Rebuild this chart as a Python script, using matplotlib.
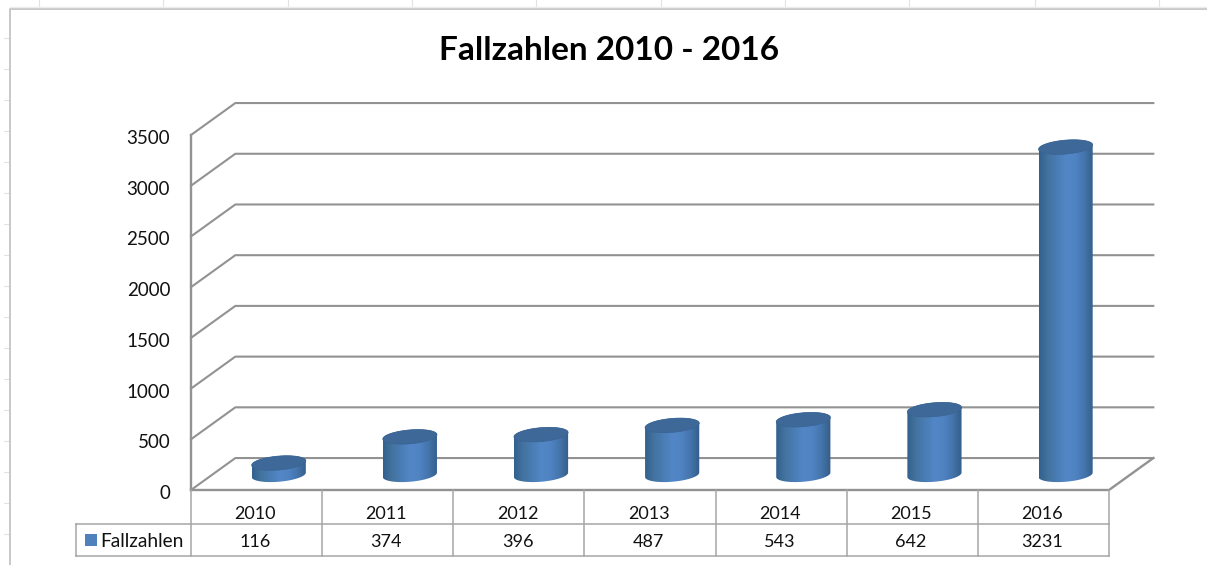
import matplotlib
matplotlib.use("Agg")
import matplotlib.pyplot as plt
from matplotlib.colors import LinearSegmentedColormap
from matplotlib.patches import Polygon, Rectangle
from matplotlib.transforms import offset_copy
import numpy as np

years = ["2010", "2011", "2012", "2013", "2014", "2015", "2016"]
values = [116, 374, 396, 487, 543, 642, 3231]
y_ticks = [0, 500, 1000, 1500, 2000, 2500, 3000, 3500]
series_name = "Fallzahlen"
title = "Fallzahlen 2010 - 2016"

W, H = 1207, 565
plt.rcParams["font.family"] = ["Lato", "DejaVu Sans"]

# 3d look, all in data units of the front plane
depth_x = 0.338
depth_y = 315
radius = 0.197
tilt_x = 0.062
tilt_y = 72
base = 150
grid_col = "#929292"
table_col = "#a6a6a6"
row1 = -335
row2 = -655
legend_left = -0.875

fig = plt.figure(figsize=(W / 100, H / 100), dpi=100, facecolor="white")

# spreadsheet behind the chart, pixel coordinates
bg = fig.add_axes([0, 0, 1, 1])
bg.set_xlim(0, W)
bg.set_ylim(H, 0)
bg.axis("off")
for x in [39, 163, 288, 412, 536, 661, 785, 909, 1035, 1159]:
    bg.plot([x, x], [0, 8], color="#e2e2e2", lw=0.8)
for y in [38, 69, 100, 131, 162, 193, 224, 255, 286, 317, 348, 379, 410, 441, 472, 503, 534]:
    bg.plot([4, 10], [y, y], color="#e2e2e2", lw=0.8)
bg.plot([10, 10, W], [H, 9, 9], color="#c4c4c4", lw=1.3)
bg.plot([10, W], [7, 7], color="#ececec", lw=1)

ax = fig.add_axes([191 / W, 1 - 490 / H, 918 / W, 355 / H])
ax.set_xlim(0, len(years))
ax.set_ylim(0, 3500)
ax.patch.set_alpha(0)
for s in ax.spines.values():
    s.set_visible(False)
ax.set_xticks([])
ax.set_yticks(y_ticks)
ax.set_yticklabels([str(v) for v in y_ticks], fontsize=13.5, color="#111111")
ax.tick_params(axis="y", length=0, pad=15)
for lab in ax.get_yticklabels():
    lab.set_y(lab.get_position()[1])
    lab.set_transform(offset_copy(lab.get_transform(), fig=fig, y=-2, units="dots"))

n = len(years)
for v in y_ticks:
    ax.plot([0, depth_x, n + depth_x], [v, v + depth_y, v + depth_y],
            color=grid_col, lw=1.5, clip_on=False, zorder=1)
ax.plot([0, 0], [0, 3500], color=grid_col, lw=1.7, clip_on=False, zorder=2)
ax.plot([0, n, n + depth_x], [0, 0, depth_y], color=grid_col, lw=1.7, clip_on=False, zorder=2)

side_cmap = LinearSegmentedColormap.from_list(
    "side", ["#32608f", "#44739f", "#4a7db5", "#5286c6", "#4f83c2", "#4474ab", "#345d89"])
gradient = np.linspace(0, 1, 256).reshape(1, -1)


def ring(cx, cy, a, b):
    t = np.linspace(a, b, 80)
    return np.column_stack([cx + radius * np.cos(t) + tilt_x * np.sin(t),
                            cy + tilt_y * np.sin(t)])


t0 = np.arctan2(tilt_x, radius)
half_w = np.hypot(radius, tilt_x)
for i, v in enumerate(values):
    cx = i + 0.5 + depth_x / 2
    body = np.vstack([ring(cx, base, t0 + np.pi, t0 + 2 * np.pi),
                      ring(cx, base + v, t0, t0 + np.pi)])
    clip = Polygon(body, closed=True, transform=ax.transData, facecolor="none", edgecolor="none")
    ax.add_patch(clip)
    im = ax.imshow(gradient, cmap=side_cmap, aspect="auto", zorder=3,
                   extent=[cx - half_w, cx + half_w, 0, 3500])
    im.set_clip_path(clip)
    top = Polygon(ring(cx, base + v, 0, 2 * np.pi), closed=True, facecolor="#3e6898",
                  edgecolor="#3a6392", lw=0.5, zorder=4)
    ax.add_patch(top)
ax.set_xlim(0, n)
ax.set_ylim(0, 3500)

# data table below the plot
ax.plot([0, 0], [0, row2], color=table_col, lw=1.1, clip_on=False)
ax.plot([n, n], [0, row2], color=table_col, lw=1.1, clip_on=False)
ax.plot([legend_left, n], [row1, row1], color=table_col, lw=1.1, clip_on=False)
ax.plot([legend_left, n], [row2, row2], color=table_col, lw=1.1, clip_on=False)
ax.plot([legend_left, legend_left], [row1, row2], color=table_col, lw=1.1, clip_on=False)
for i in range(1, n):
    ax.plot([i, i], [0, row2], color=table_col, lw=1.1, clip_on=False)
for i, (yr, v) in enumerate(zip(years, values)):
    ax.text(i + 0.49, row1 / 2 - 70, yr, ha="center", va="center", fontsize=13,
            color="#111111", clip_on=False)
    ax.text(i + 0.49, (row1 + row2) / 2 - 15, str(v), ha="center", va="center", fontsize=13,
            color="#111111", clip_on=False)
ax.add_patch(Rectangle((legend_left + 0.07, (row1 + row2) / 2 - 62), 0.09, 125,
                       facecolor="#4f81bd", edgecolor="none", clip_on=False))
ax.text(legend_left + 0.18, (row1 + row2) / 2 - 15, series_name, ha="left", va="center",
        fontsize=13.8, color="#111111", clip_on=False)

fig.text(609 / W, 1 - 51 / H, title, ha="center", va="center", fontsize=24,
         fontweight="bold", color="black")

fig.savefig("out.png", dpi=100)
